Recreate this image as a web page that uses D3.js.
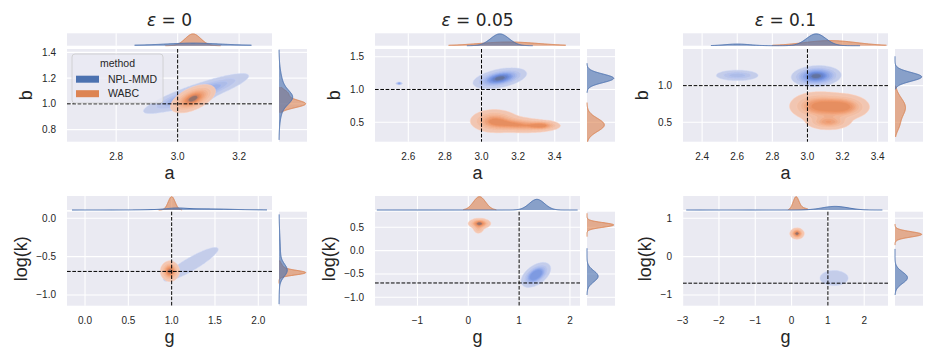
<!DOCTYPE html>
<html>
<head>
<meta charset="utf-8">
<script src="https://cdn.jsdelivr.net/npm/d3@7"></script>
<style>
  body { margin: 0; background: #fff; }
  svg text { font-family: "Liberation Sans", Arial, sans-serif; fill: #262626; }
</style>
</head>
<body>
<svg id="chart" width="936" height="360"></svg>
<script>
// ---- data ----
const methods = ["NPL-MMD", "WABC"];
const titles = ["ε = 0", "ε = 0.05", "ε = 0.1"];
const xLabels = ["a", "a", "a", "g", "g", "g"];
const yLabels = ["b", "b", "b", "log(k)", "log(k)", "log(k)"];

const xDomains = [[2.64, 3.307], [2.418, 3.538], [2.291, 3.459], [-0.208, 2.158], [-1.836, 2.198], [-2.99, 2.655]];
const yDomains = [[0.706, 1.426], [0.204, 1.617], [0.235, 1.5], [-1.14, 0.086], [-1.18, 0.834], [-1.28, 1.17]];
const xTicks = [[2.8, 3.0, 3.2], [2.6, 2.8, 3.0, 3.2, 3.4], [2.4, 2.6, 2.8, 3.0, 3.2, 3.4], [0, 0.5, 1, 1.5, 2], [-1, 0, 1, 2], [-3, -2, -1, 0, 1, 2]];
const yTicks = [[0.8, 1.0, 1.2, 1.4], [0.5, 1.0, 1.5], [0.5, 1.0], [-1, -0.5, 0], [-1, -0.5, 0, 0.5], [-1, 0, 1]];
const xFormats = [".1f", ".1f", ".1f", ".1f", "d", "d"];
const yFormats = [".1f", ".1f", ".1f", ".1f", ".1f", "d"];

// true parameter values (dashed lines)
const trueX = [3, 3, 3, 1, 1, 1];
const trueY = [1, 1, 1, -0.693, -0.693, -0.693];

// joint density blobs: [meanX, meanY, sdX, sdY, corr, weight]
const jointNPL = [
  [[3.06, 1.08, 0.075, 0.068, 0.88, 0.7], [3.04, 1.03, 0.03, 0.03, 0.5, 0.3]],
  [[3.10, 1.17, 0.06, 0.065, 0.45, 0.99], [2.55, 1.09, 0.008, 0.006, 0, 0.01]],
  [[3.05, 1.13, 0.055, 0.055, 0.1, 0.85], [2.60, 1.14, 0.06, 0.035, 0, 0.15]],
  [[1.22, -0.60, 0.13, 0.09, 0.9, 1]],
  [[1.33, -0.52, 0.12, 0.11, 0.5, 1]],
  [[1.17, -0.56, 0.16, 0.08, 0, 1]]
];
const jointWABC = [
  [[3.05, 1.04, 0.03, 0.045, 0.55, 1]],
  [[3.07, 0.52, 0.06, 0.08, 0, 0.45], [3.20, 0.46, 0.08, 0.055, -0.2, 0.4], [3.33, 0.45, 0.045, 0.035, 0, 0.15]],
  [[3.06, 0.72, 0.075, 0.09, 0, 0.45], [3.20, 0.71, 0.07, 0.08, 0, 0.4], [3.12, 0.50, 0.06, 0.05, 0, 0.15]],
  [[0.98, -0.69, 0.045, 0.055, 0, 1]],
  [[0.22, 0.58, 0.09, 0.045, 0, 0.85], [0.20, 0.47, 0.05, 0.05, 0, 0.15]],
  [[0.15, 0.60, 0.08, 0.06, 0, 1]]
];
// how many filled levels are visible for each method
const bandsNPL = [9, 9, 9, 1, 6, 1];
const bandsWABC = [9, 7, 7, 9, 9, 9];

// marginal densities: [mean, sd, weight]
const margXNPL = [
  [[3.05, 0.08, 0.5], [3.05, 0.2, 0.5]],
  [[3.10, 0.05, 1]],
  [[3.05, 0.055, 0.85], [2.60, 0.07, 0.15]],
  [[1.05, 0.1, 0.2], [1.3, 0.35, 0.8]],
  [[1.35, 0.15, 1]],
  [[1.2, 0.35, 1]]
];
const margXWABC = [
  [[3.05, 0.025, 1]],
  [[3.15, 0.16, 1]],
  [[3.13, 0.15, 1]],
  [[1.0, 0.04, 1]],
  [[0.22, 0.12, 1]],
  [[0.12, 0.08, 0.8], [0.3, 0.12, 0.2]]
];
const margYNPL = [
  [[1.05, 0.05, 0.4], [1.07, 0.12, 0.6]],
  [[1.17, 0.065, 1]],
  [[1.12, 0.06, 1]],
  [[-0.68, 0.08, 0.6], [-0.5, 0.25, 0.4]],
  [[-0.55, 0.12, 1]],
  [[-0.55, 0.15, 1]]
];
const margYWABC = [
  [[1.0, 0.03, 0.75], [1.08, 0.03, 0.25]],
  [[0.46, 0.1, 1]],
  [[0.7, 0.13, 0.85], [0.45, 0.08, 0.15]],
  [[-0.71, 0.03, 0.8], [-0.64, 0.05, 0.2]],
  [[0.55, 0.05, 1]],
  [[0.58, 0.07, 1]]
];
// range each marginal curve is drawn over
const suppXNPL = [[2.86, 3.24], [2.92, 3.28], [2.45, 3.30], [-0.15, 2.10], [-1.80, 2.15], [-2.90, 2.50]];
const suppXWABC = [[2.96, 3.14], [2.82, 3.46], [2.80, 3.45], [0.85, 1.12], [-0.10, 0.55], [-0.10, 0.45]];
const suppYNPL = [[0.72, 1.42], [0.95, 1.40], [0.95, 1.40], [-1.12, 0.05], [-0.95, 0.05], [-1.00, 0.20]];
const suppYWABC = [[0.93, 1.13], [0.20, 0.80], [0.30, 1.00], [-0.85, -0.55], [0.30, 0.80], [0.30, 0.85]];

// ---- style ----
const colors = { "NPL-MMD": "#4c72b0", "WABC": "#dd8452" };
const bg = "#eaeaf2";
const rampStops = [0, 0.35, 0.65, 0.8, 0.88, 1];
const rampNPL = d3.scaleLinear().domain(rampStops)
  .range(["#cad1ea", "#a5b6e8", "#7896e0", "#6584d4", "#6a7fb8", "#5c6888"]).interpolate(d3.interpolateLab);
const rampWABC = d3.scaleLinear().domain(rampStops)
  .range(["#f1cab8", "#eeb190", "#e9956a", "#e28656", "#c5806a", "#6f6466"]).interpolate(d3.interpolateLab);

// layout
const colLeft = [67, 375, 683];
const jointW = 205;
const rows = [
  { top: 49, bottom: 141.7, mTop: 33.3, mBot: 45.7 },
  { top: 211.7, bottom: 305.7, mTop: 196, mBot: 210 }
];
const rGap = 212, rW = 28;

const svg = d3.select("#chart");
const defs = svg.append("defs");

function dens2(comps, gx, gy) {
  let s = 0;
  for (const [mx, my, sx, sy, r, w] of comps) {
    const zx = (gx - mx) / sx, zy = (gy - my) / sy, q = 1 - r * r;
    s += w / (2 * Math.PI * sx * sy * Math.sqrt(q)) * Math.exp(-(zx * zx - 2 * r * zx * zy + zy * zy) / (2 * q));
  }
  return s;
}
function dens1(comps, v) {
  let s = 0;
  for (const [m, sd, w] of comps) {
    const z = (v - m) / sd;
    s += w / (sd * Math.sqrt(2 * Math.PI)) * Math.exp(-0.5 * z * z);
  }
  return s;
}
// iso-proportion levels like seaborn
function isoLevels(values, qs) {
  const sorted = Array.from(values).sort((a, b) => b - a);
  const total = d3.sum(sorted);
  const cum = [];
  let c = 0;
  for (const v of sorted) { c += v; cum.push(c / total); }
  return qs.map(q => sorted[Math.min(d3.bisectLeft(cum, 1 - q), sorted.length - 1)]);
}
const qs = d3.range(10).map(i => 0.05 + i * 0.95 / 9);

for (let p = 0; p < 6; p++) {
  const col = p % 3, R = rows[Math.floor(p / 3)];
  const left = colLeft[col], top = R.top, bottom = R.bottom, h = bottom - top;
  const x = d3.scaleLinear().domain(xDomains[p]).range([left, left + jointW]);
  const y = d3.scaleLinear().domain(yDomains[p]).range([bottom, top]);
  const g = svg.append("g");

  defs.append("clipPath").attr("id", "clip" + p)
    .append("rect").attr("x", left).attr("y", top).attr("width", jointW).attr("height", h);

  // backgrounds
  g.append("rect").attr("x", left).attr("y", top).attr("width", jointW).attr("height", h).attr("fill", bg);
  g.append("rect").attr("x", left).attr("y", R.mTop).attr("width", jointW).attr("height", R.mBot - R.mTop).attr("fill", bg);
  g.append("rect").attr("x", left + rGap).attr("y", top).attr("width", rW).attr("height", h).attr("fill", bg);

  // grid lines
  g.selectAll(null).data(xTicks[p]).join("line")
    .attr("x1", d => x(d)).attr("x2", d => x(d)).attr("y1", top).attr("y2", bottom)
    .attr("stroke", "#fff").attr("stroke-width", 1.1);
  g.selectAll(null).data(xTicks[p]).join("line")
    .attr("x1", d => x(d)).attr("x2", d => x(d)).attr("y1", R.mTop).attr("y2", R.mBot)
    .attr("stroke", "#fff").attr("stroke-width", 1.1);
  g.selectAll(null).data(yTicks[p]).join("line")
    .attr("y1", d => y(d)).attr("y2", d => y(d)).attr("x1", left).attr("x2", left + jointW)
    .attr("stroke", "#fff").attr("stroke-width", 1.1);
  g.selectAll(null).data(yTicks[p]).join("line")
    .attr("y1", d => y(d)).attr("y2", d => y(d)).attr("x1", left + rGap).attr("x2", left + rGap + rW)
    .attr("stroke", "#fff").attr("stroke-width", 1.1);

  // joint filled contours
  const nx = Math.round(jointW / 1.4), ny = Math.round(h / 1.4);
  const [x0, x1] = xDomains[p], [y0, y1] = yDomains[p];
  const proj = d3.geoPath(d3.geoTransform({
    point(u, v) { this.stream.point(left + u * jointW / nx, top + v * h / ny); }
  }));
  const cg = g.append("g").attr("clip-path", `url(#clip${p})`);
  [[jointNPL[p], bandsNPL[p], rampNPL], [jointWABC[p], bandsWABC[p], rampWABC]].forEach(([comps, nb, ramp]) => {
    const vals = new Float64Array(nx * ny);
    for (let j = 0; j < ny; j++) {
      const gy = y1 - (j + 0.5) * (y1 - y0) / ny;
      for (let i = 0; i < nx; i++) {
        vals[j * nx + i] = dens2(comps, x0 + (i + 0.5) * (x1 - x0) / nx, gy);
      }
    }
    const lev = isoLevels(vals, qs);
    const contours = d3.contours().size([nx, ny]);
    for (let k = 0; k < Math.min(nb, 9); k++) {
      const c = ramp((k + 0.5) / 9);
      cg.append("path").attr("d", proj(contours.contour(vals, lev[k])))
        .attr("fill", c).attr("stroke", d3.color(c).brighter(0.15)).attr("stroke-width", 0.5);
    }
  });

  // true values
  g.append("line").attr("x1", x(trueX[p])).attr("x2", x(trueX[p])).attr("y1", top).attr("y2", bottom)
    .attr("stroke", "#000").attr("stroke-width", 1).attr("stroke-dasharray", "3.7,1.6");
  g.append("line").attr("y1", y(trueY[p])).attr("y2", y(trueY[p])).attr("x1", left).attr("x2", left + jointW)
    .attr("stroke", "#000").attr("stroke-width", 1).attr("stroke-dasharray", "3.7,1.6");

  // marginals (WABC first, NPL-MMD on top)
  const mx = [[margXWABC[p], suppXWABC[p], "WABC"], [margXNPL[p], suppXNPL[p], "NPL-MMD"]];
  const my = [[margYWABC[p], suppYWABC[p], "WABC"], [margYNPL[p], suppYNPL[p], "NPL-MMD"]];
  const sample = (comps, supp, dom) => {
    const lo = Math.max(supp[0], Math.min(dom[0], dom[1])), hi = Math.min(supp[1], Math.max(dom[0], dom[1]));
    return d3.range(201).map(i => { const v = lo + (hi - lo) * i / 200; return [v, dens1(comps, v)]; });
  };
  const cx = mx.map(([c, s, m]) => [sample(c, s, xDomains[p]), m]);
  const cy = my.map(([c, s, m]) => [sample(c, s, yDomains[p]), m]);
  const maxX = d3.max(cx, d => d3.max(d[0], e => e[1]));
  const maxY = d3.max(cy, d => d3.max(d[0], e => e[1]));
  const tY = d3.scaleLinear().domain([0, maxX * 1.05]).range([R.mBot, R.mTop]);
  const rX = d3.scaleLinear().domain([0, maxY * 1.05]).range([left + rGap, left + rGap + rW]);
  cx.forEach(([pts, m]) => {
    g.append("path").attr("d", d3.area().x(d => x(d[0])).y0(R.mBot).y1(d => tY(d[1]))(pts))
      .attr("fill", colors[m]).attr("fill-opacity", 0.62);
    g.append("path").attr("d", d3.line().x(d => x(d[0])).y(d => tY(d[1]))(pts))
      .attr("fill", "none").attr("stroke", colors[m]).attr("stroke-width", 1);
  });
  cy.forEach(([pts, m]) => {
    g.append("path").attr("d", d3.area().y(d => y(d[0])).x0(left + rGap).x1(d => rX(d[1]))(pts))
      .attr("fill", colors[m]).attr("fill-opacity", 0.62);
    g.append("path").attr("d", d3.line().y(d => y(d[0])).x(d => rX(d[1]))(pts))
      .attr("fill", "none").attr("stroke", colors[m]).attr("stroke-width", 1);
  });

  // tick labels
  const fx = d3.format(xFormats[p]), fy = d3.format(yFormats[p]);
  g.selectAll(null).data(xTicks[p]).join("text")
    .attr("x", d => x(d)).attr("y", bottom + 15).attr("dy", "0.35em")
    .attr("text-anchor", "middle").attr("font-size", 10).text(d => fx(d));
  const yt = g.selectAll(null).data(yTicks[p]).join("text")
    .attr("x", left - 11).attr("y", d => y(d)).attr("dy", "0.35em")
    .attr("text-anchor", "end").attr("font-size", 10).text(d => fy(d));
  const tickW = d3.max(yt.nodes(), n => n.getComputedTextLength());

  // axis labels
  g.append("text").attr("x", left + jointW / 2).attr("y", bottom + 31).attr("dy", "0.35em")
    .attr("text-anchor", "middle").attr("font-size", 18).text(xLabels[p]);
  const lx = left - 11 - tickW - 16;
  g.append("text").attr("transform", `translate(${lx},${(top + bottom) / 2}) rotate(-90)`)
    .attr("dy", "0.35em").attr("text-anchor", "middle").attr("font-size", 18).text(yLabels[p]);

  // column titles
  if (p < 3) {
    const t = g.append("text").attr("x", left + jointW / 2).attr("y", 26)
      .attr("text-anchor", "middle").attr("font-size", 17)
      .style("font-family", "'DejaVu Sans', sans-serif");
    const parts = titles[p].split(" = ");
    t.append("tspan").attr("font-style", "italic").text("ε");
    t.append("tspan").text(" = " + parts[1]);
  }
}

// legend in the first panel
const lg = svg.append("g").attr("transform", "translate(72,54)");
lg.append("rect").attr("width", 91).attr("height", 49).attr("rx", 3)
  .attr("fill", bg).attr("fill-opacity", 0.8).attr("stroke", "#cccccc").attr("stroke-width", 0.8);
lg.append("text").attr("x", 45.5).attr("y", 9).attr("dy", "0.35em")
  .attr("text-anchor", "middle").attr("font-size", 10.5).text("method");
methods.forEach((m, i) => {
  lg.append("rect").attr("x", 4).attr("y", 21.7 + i * 14.5).attr("width", 23).attr("height", 7)
    .attr("fill", colors[m]);
  lg.append("text").attr("x", 36).attr("y", 25.2 + i * 14.5).attr("dy", "0.35em")
    .attr("font-size", 10.5).text(m);
});
</script>
</body>
</html>
